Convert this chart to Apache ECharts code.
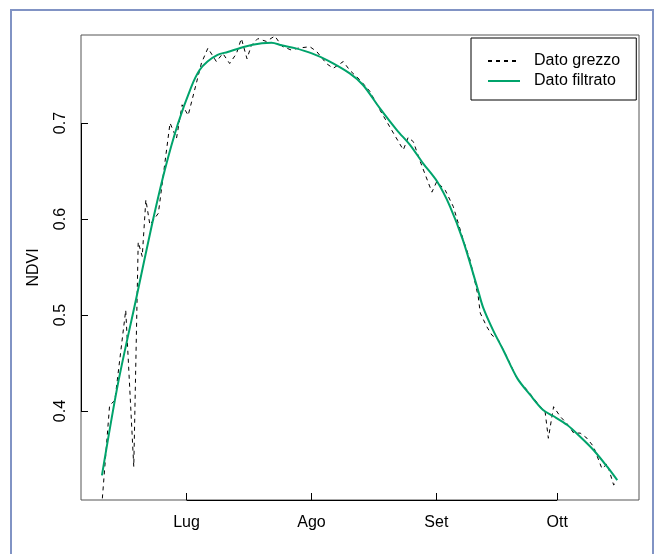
<!DOCTYPE html>
<html>
<head>
<meta charset="utf-8">
<script src="https://cdn.jsdelivr.net/npm/echarts@6/dist/echarts.min.js"></script>
<style>
html,body{margin:0;padding:0;background:#fff;}
#c{width:656px;height:554px;}
</style>
</head>
<body>
<div id="c"></div>
<script>
// Days counted from 1 June
const tickDays = [30, 61, 92, 122];
const tickLabels = ['Lug', 'Ago', 'Set', 'Ott'];
const yTicks = [0.4, 0.5, 0.6, 0.7];

const rawDays = [9.1,10.9,12.2,14.9,16.9,18.0,19.0,19.9,20.9,23.0,25.9,27.5,28.9,30.4,33.7,35.3,37.4,39.0,40.7,42.4,43.6,45.0,46.1,47.7,49.8,51.9,53.7,56.0,57.7,60.6,62.3,64.7,66.4,68.9,70.5,73.0,75.5,78.0,80.9,83.8,85.0,86.3,87.9,90.9,92.1,94.2,96.2,98.7,100.4,102.4,102.9,104.5,105.8,107.4,109.9,112.0,114.5,117.8,119.0,119.8,121.1,122.8,124.4,126.1,127.7,129.4,131.0,133.1,134.4,136.0,136.9];
const rawValues = [0.309,0.406,0.411,0.505,0.342,0.576,0.561,0.620,0.594,0.606,0.700,0.684,0.719,0.708,0.7625,0.778,0.764,0.7725,0.762,0.7725,0.788,0.767,0.781,0.788,0.785,0.7906,0.780,0.776,0.778,0.7795,0.7745,0.762,0.757,0.764,0.755,0.745,0.733,0.7135,0.6927,0.672,0.685,0.6805,0.661,0.628,0.639,0.630,0.613,0.578,0.557,0.519,0.502,0.488,0.479,0.474,0.453,0.434,0.422,0.4045,0.399,0.3716,0.4045,0.394,0.387,0.377,0.377,0.3716,0.363,0.340,0.345,0.323,0.326];

const filtDays = [9.0,13.0,17.6,21.3,24.6,27.9,31.2,33.2,35.2,37.7,40.2,44.4,48.7,51.1,53.6,56.9,61.1,65.1,70.5,73.8,78.0,82.2,85.5,88.7,92.2,95.4,98.6,102.1,103.6,106.1,108.6,112.1,115.3,118.5,121.0,124.5,127.7,131.0,134.4,136.9];
const filtValues = [0.333,0.429,0.519,0.592,0.651,0.6997,0.738,0.755,0.764,0.771,0.774,0.7795,0.783,0.7837,0.781,0.778,0.7725,0.765,0.7517,0.7396,0.7153,0.6927,0.677,0.658,0.639,0.613,0.578,0.5295,0.508,0.484,0.4635,0.434,0.4167,0.401,0.3948,0.3854,0.3732,0.3594,0.342,0.328];

const xMin = 3.8, xMax = 142.3;
const yMin = 0.3073, yMax = 0.7917;

const rawData = rawDays.map((d, i) => [d, rawValues[i]]);
const filtData = filtDays.map((d, i) => [d, filtValues[i]]);

const FONT = '"Liberation Sans", Arial, Helvetica, sans-serif';
const chart = echarts.init(document.getElementById('c'), null, {renderer: 'canvas'});
chart.setOption({
  animation: false,
  backgroundColor: '#ffffff',
  textStyle: {fontFamily: FONT},
  graphic: [{
    type: 'rect', silent: true, z: -10,
    shape: {x: 11, y: 10, width: 642, height: 600},
    style: {fill: 'none', stroke: '#8193c4', lineWidth: 2}
  }],
  grid: {left: 81, top: 35, right: 17, bottom: 54, show: true, borderColor: '#555', borderWidth: 1, backgroundColor: 'transparent'},
  legend: {
    orient: 'vertical', left: 471, top: 38,
    itemWidth: 32, itemHeight: 14, itemGap: 4,
    padding: [15, 16, 11, 16],
    borderColor: '#000', borderWidth: 1,
    backgroundColor: '#fff',
    itemStyle: {opacity: 0, borderWidth: 0},
    textStyle: {fontFamily: FONT, fontSize: 16, color: '#000', padding: [0, 0, 0, 9]},
    data: ['Dato grezzo', 'Dato filtrato']
  },
  xAxis: {
    type: 'value', min: xMin, max: xMax,
    axisLine: {show: false},
    splitLine: {show: false},
    axisTick: {show: true, inside: true, length: 7, lineStyle: {color: '#000'}, customValues: tickDays},
    axisLabel: {
      customValues: tickDays, margin: 15,
      fontFamily: FONT, fontSize: 16, color: '#000',
      formatter: v => tickLabels[tickDays.indexOf(v)]
    }
  },
  yAxis: {
    type: 'value', min: yMin, max: yMax,
    name: 'NDVI', nameLocation: 'middle', nameRotate: 90, nameGap: 39,
    nameTextStyle: {fontFamily: FONT, fontSize: 16, color: '#000'},
    axisLine: {show: false},
    splitLine: {show: false},
    axisTick: {show: true, inside: true, length: 7, lineStyle: {color: '#000'}, customValues: yTicks},
    axisLabel: {
      customValues: yTicks, rotate: 90, margin: 12,
      fontFamily: FONT, fontSize: 16, color: '#000',
      formatter: v => v.toFixed(1)
    }
  },
  series: [
    {
      name: 'Dato grezzo', type: 'line', data: rawData,
      symbol: 'none', smooth: false,
      lineStyle: {color: '#000', width: 1, type: [4, 4]},
      itemStyle: {color: '#000'},
      z: 3
    },
    {
      name: 'Dato filtrato', type: 'line', data: filtData,
      symbol: 'none', smooth: 0.3,
      lineStyle: {color: '#00a36b', width: 2},
      itemStyle: {color: '#00a36b'},
      z: 4
    },
    {
      name: 'axes', type: 'line', data: [], clip: false, silent: true,
      markLine: {
        silent: true, symbol: 'none', animation: false,
        label: {show: false},
        lineStyle: {color: '#000', width: 1, type: 'solid'},
        data: [
          [{coord: [tickDays[0], yMin]}, {coord: [tickDays[tickDays.length - 1], yMin]}],
          [{coord: [xMin, yTicks[0]]}, {coord: [xMin, yTicks[yTicks.length - 1]]}]
        ]
      }
    }
  ]
});
</script>
</body>
</html>
